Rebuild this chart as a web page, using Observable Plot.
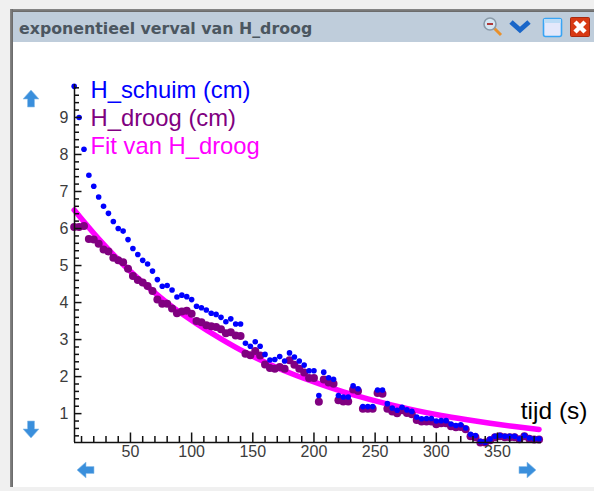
<!DOCTYPE html>
<html>
<head>
<meta charset="utf-8">
<script src="https://cdn.jsdelivr.net/npm/d3@7"></script>
<script src="https://cdn.jsdelivr.net/npm/@observablehq/plot@0.6"></script>
<style>
html,body{margin:0;padding:0;background:#fff;}
#page{position:relative;width:594px;height:491px;overflow:hidden;background:#fff;font-family:"DejaVu Sans",sans-serif;}
.c{position:absolute;}
#plot{position:absolute;left:0;top:0;}
#plot svg{display:block;background:transparent;overflow:visible;}
</style>
</head>
<body>
<div id="page">
  <div class="c" style="left:0;top:0;width:594px;height:9px;background:#f0f0f0"></div>
  <div class="c" style="left:0;top:0;width:10px;height:491px;background:#f0f0f0"></div>
  <div class="c" style="left:10px;top:9px;width:584px;height:3px;background:linear-gradient(#8a8a8a,#666)"></div>
  <div class="c" style="left:10px;top:9px;width:3px;height:478px;background:linear-gradient(90deg,#8a8a8a,#666)"></div>
  <div class="c" style="left:13px;top:12px;width:581px;height:30px;background:#bfcddb"></div>
  <div class="c" style="left:0;top:487px;width:594px;height:4px;background:#f0f0f0"></div>
  <div class="c" id="wintitle" style="left:19px;top:19px;font:bold 15.8px 'DejaVu Sans',sans-serif;color:#4b5660;white-space:nowrap">exponentieel verval van H_droog</div>

  <svg class="c" style="left:482px;top:16px" width="22" height="22" viewBox="0 0 22 22"><line x1="11" y1="11" x2="19" y2="19" stroke="#e8902c" stroke-width="3"/><circle cx="8" cy="8" r="6" fill="#d4e6f2" stroke="#8a9aa8" stroke-width="1.6"/><line x1="5" y1="8" x2="11" y2="8" stroke="#b03a3a" stroke-width="2"/></svg>
  <svg class="c" style="left:509px;top:18px" width="22" height="18" viewBox="0 0 22 18"><polyline points="2,4 11,12 20,4" fill="none" stroke="#1a66c8" stroke-width="5"/></svg>
  <svg class="c" style="left:542px;top:17px" width="21" height="21" viewBox="0 0 21 21"><rect x="1.5" y="1.5" width="18" height="18" rx="2" fill="#e4e8fb" stroke="#38a4f4" stroke-width="1.6"/><rect x="2" y="2" width="17" height="4" fill="#bcdcf6"/></svg>
  <svg class="c" style="left:570px;top:17px" width="20" height="20" viewBox="0 0 20 20"><rect x="0.5" y="0.5" width="19" height="19" rx="1" fill="#d83a14" stroke="#a82a10"/><path d="M5 5L15 15M15 5L5 15" stroke="#fff" stroke-width="4.5"/></svg>

  <svg class="c" style="left:22px;top:89px" width="18" height="19" viewBox="0 0 18 19"><path d="M9 1L17 10H12.5V18H5.5V10H1Z" fill="#3a8fdc" stroke="#8fc0ea" stroke-width="0.6"/></svg>
  <svg class="c" style="left:22px;top:420px" width="18" height="19" viewBox="0 0 18 19"><path d="M9 18L17 9H12.5V1H5.5V9H1Z" fill="#3a8fdc" stroke="#8fc0ea" stroke-width="0.6"/></svg>
  <svg class="c" style="left:76px;top:461px" width="19" height="18" viewBox="0 0 19 18"><path d="M1 9L10 1V5.5H18V12.5H10V17Z" fill="#3a8fdc" stroke="#8fc0ea" stroke-width="0.6"/></svg>
  <svg class="c" style="left:518px;top:461px" width="19" height="18" viewBox="0 0 19 18"><path d="M18 9L9 1V5.5H1V12.5H9V17Z" fill="#3a8fdc" stroke="#8fc0ea" stroke-width="0.6"/></svg>

  <div id="plot"></div>
</div>
<script>
const tijd = [4,8,12,16,20,24,28,32,36,40,44,48,52,56,60,64,68,72,76,80,84,88,92,96,100,104,108,112,116,120,124,128,132,136,140,144,148,152,156,160,164,168,172,176,180,184,188,192,196,200,204,208,212,216,220,224,228,232,236,240,244,248,252,256,260,264,268,272,276,280,284,288,292,296,300,304,308,312,316,320,324,328,332,336,340,344,348,352,356,360,364,368,372,376,380,384];
const hSchuim = [9.84,9.00,8.14,7.44,7.14,6.85,6.60,6.41,6.19,6.00,5.93,5.70,5.46,5.30,5.14,5.04,4.85,4.62,4.44,4.46,4.34,4.15,4.20,4.16,4.08,3.90,3.86,3.80,3.71,3.68,3.60,3.48,3.56,3.42,3.42,2.90,2.82,2.94,2.82,2.60,2.45,2.46,2.54,2.42,2.64,2.53,2.42,2.31,2.16,2.16,1.49,2.12,1.97,1.93,1.49,1.45,1.45,1.75,1.67,1.19,1.19,1.19,1.64,1.64,1.27,1.15,1.09,1.17,1.10,1.06,0.91,0.86,0.87,0.87,0.80,0.81,0.81,0.72,0.68,0.70,0.61,0.44,0.41,0.25,0.23,0.31,0.39,0.41,0.39,0.39,0.39,0.32,0.41,0.34,0.32,0.32];
const hDroog = [6.04,6.04,6.07,5.72,5.70,5.59,5.43,5.38,5.21,5.14,5.09,4.91,4.72,4.61,4.54,4.45,4.31,4.08,3.97,3.97,3.84,3.71,3.76,3.78,3.70,3.50,3.47,3.39,3.36,3.34,3.28,3.17,3.20,3.11,3.10,2.62,2.58,2.69,2.57,2.33,2.23,2.21,2.26,2.21,2.44,2.32,2.21,2.11,1.96,1.96,1.32,1.92,1.84,1.81,1.36,1.33,1.33,1.65,1.61,1.13,1.13,1.13,1.56,1.54,1.13,1.06,1.01,1.09,1.02,0.98,0.83,0.79,0.79,0.79,0.71,0.74,0.74,0.66,0.63,0.64,0.58,0.39,0.36,0.22,0.22,0.28,0.36,0.39,0.36,0.36,0.36,0.31,0.39,0.32,0.30,0.30];
const fitTijd = [4,24,44,64,84,104,124,144,164,184,204,224,244,264,284,304,324,344,364,384];
const fitDroog = [6.50,5.72,5.03,4.43,3.89,3.43,3.02,2.65,2.33,2.05,1.81,1.59,1.40,1.23,1.08,0.95,0.84,0.74,0.65,0.57];
const xMajor = [50,100,150,200,250,300,350];
const xMinor = [10,20,30,40,60,70,80,90,110,120,130,140,160,170,180,190,210,220,230,240,260,270,280,290,310,320,330,340,360,370,380];
const yMajor = [1,2,3,4,5,6,7,8,9];
const yMinor = [0.4,0.6,0.8,1.2,1.4,1.6,1.8,2.2,2.4,2.6,2.8,3.2,3.4,3.6,3.8,4.2,4.4,4.6,4.8,5.2,5.4,5.6,5.8,6.2,6.4,6.6,6.8,7.2,7.4,7.6,7.8,8.2,8.4,8.6,8.8,9.2,9.4,9.6,9.8];
const legendNames = ["H_schuim (cm)","H_droog (cm)","Fit van H_droog"];
const legendColors = ["#0000ff","#800080","#ff00ff"];
const xTitle = "tijd (s)";

const tickFont = "Liberation Sans, sans-serif";
const width = 594, height = 491, mL = 74, mR = 53, mT = 84, mB = 49;
const frameW = width - mL - mR, frameH = height - mT - mB;
const ink = {stroke:"#111", strokeWidth:1.5};
const labelOpts = {fill:"#3c3c3c", fontSize:16, label:null, tickSize:0};

const chart = Plot.plot({
  width, height,
  marginLeft:mL, marginRight:mR, marginTop:mT, marginBottom:mB,
  style:{background:"transparent", fontFamily:tickFont},
  x:{type:"linear", domain:[4.25,386], axis:null},
  y:{type:"linear", domain:[0.22,9.89], axis:null},
  marks:[
    Plot.line(fitTijd,{x:d=>d, y:(d,i)=>fitDroog[i], stroke:legendColors[2], strokeWidth:5.5, curve:"monotone-x"}),
    Plot.dot(tijd,{x:d=>d, y:(d,i)=>hDroog[i], r:4, fill:legendColors[1]}),
    Plot.dot(tijd,{x:d=>d, y:(d,i)=>hSchuim[i], r:2.8, fill:legendColors[0]}),
    Plot.ruleX([4.25],ink),
    Plot.ruleY([0.22],ink),
    Plot.tickX(xMinor,{x:d=>d, insetTop:frameH-6, ...ink}),
    Plot.tickX(xMajor,{x:d=>d, insetTop:frameH-9.5, ...ink}),
    Plot.tickY(yMinor,{y:d=>d, insetRight:frameW-5, ...ink}),
    Plot.tickY(yMajor,{y:d=>d, insetRight:frameW-7.5, ...ink}),
    Plot.axisX(xMajor,{...labelOpts, anchor:"bottom", tickPadding:3, tickFormat:d=>String(d)}),
    Plot.axisY(yMajor,{...labelOpts, anchor:"left", tickPadding:6, tickFormat:d=>String(d)}),
    Plot.text([legendNames[0]],{frameAnchor:"top-left", dx:16, dy:-3, text:d=>d, fill:legendColors[0], fontSize:23.8, textAnchor:"start", lineAnchor:"top"}),
    Plot.text([legendNames[1]],{frameAnchor:"top-left", dx:16, dy:25, text:d=>d, fill:legendColors[1], fontSize:23.8, textAnchor:"start", lineAnchor:"top"}),
    Plot.text([legendNames[2]],{frameAnchor:"top-left", dx:16, dy:53, text:d=>d, fill:legendColors[2], fontSize:23.8, textAnchor:"start", lineAnchor:"top"}),
    Plot.text([xTitle],{frameAnchor:"bottom-right", dx:46, dy:-24, text:d=>d, fill:"#000", fontSize:24.5, textAnchor:"end", lineAnchor:"bottom"})
  ]
});
document.getElementById("plot").appendChild(chart);
</script>
</body>
</html>
